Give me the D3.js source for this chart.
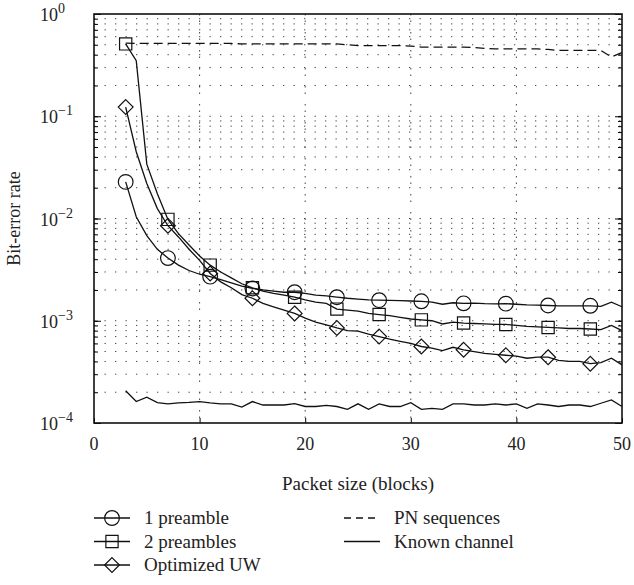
<!DOCTYPE html>
<html>
<head>
<meta charset="utf-8" />
<title>Bit-error rate vs packet size</title>
<script src="https://cdn.jsdelivr.net/npm/d3@7"></script>
<style>
  body { margin: 0; background: #fff; }
  svg text { font-family: "Liberation Serif", "DejaVu Serif", serif; fill: #222; }
</style>
</head>
<body>
<script>
// packet sizes (blocks), one point per block from 3 to 50
var packetSize = d3.range(3, 51);
// marker positions
var markerSize = [3, 7, 11, 15, 19, 23, 27, 31, 35, 39, 43, 47];

var onePreamble = [0.0228, 0.0104, 0.0068, 0.0050, 0.0041, 0.0035, 0.0031, 0.00285, 0.0027, 0.00252,
  0.00235, 0.00218, 0.00207, 0.0020, 0.00195, 0.0019, 0.0019, 0.00185, 0.00178, 0.00175,
  0.0017, 0.00166, 0.00163, 0.0016, 0.00159, 0.00158, 0.00157, 0.00156, 0.00155, 0.00152,
  0.00145, 0.0015, 0.00148, 0.00149, 0.00147, 0.00146, 0.00147, 0.00145, 0.00143, 0.00142,
  0.00141, 0.0014, 0.0014, 0.0014, 0.0014, 0.00138, 0.00152, 0.00137];

var twoPreambles = [0.51, 0.35, 0.034, 0.0175, 0.0098, 0.0071, 0.0055, 0.0043, 0.0035, 0.0030,
  0.00263, 0.0023, 0.0021, 0.00195, 0.00185, 0.00178, 0.0017, 0.0016, 0.00152, 0.00148,
  0.0013, 0.00127, 0.00124, 0.00118, 0.00115, 0.00112, 0.00108, 0.00104, 0.00102, 0.0010,
  0.00093, 0.00097, 0.00095, 0.00094, 0.00093, 0.00092, 0.00092, 0.0009, 0.00088, 0.00087,
  0.00086, 0.00085, 0.00084, 0.00084, 0.00083, 0.00082, 0.0009, 0.0008];

var optimizedUW = [0.123, 0.045, 0.022, 0.0125, 0.0085, 0.0066, 0.005, 0.0039, 0.0029, 0.0024,
  0.0021, 0.0018, 0.00166, 0.00148, 0.00137, 0.00127, 0.00118, 0.00106, 0.00097, 0.00091,
  0.00085, 0.0008, 0.00079, 0.00074, 0.0007, 0.00066, 0.00063, 0.0006, 0.00056, 0.00054,
  0.00051, 0.00055, 0.00052, 0.0005, 0.00048, 0.00047, 0.00046, 0.00045, 0.00043, 0.00044,
  0.00044, 0.00041, 0.0004, 0.0004, 0.00038, 0.00039, 0.00043, 0.00037];

var pnSequences = [0.52, 0.515, 0.515, 0.515, 0.515, 0.515, 0.515, 0.515, 0.515, 0.515,
  0.515, 0.51, 0.51, 0.51, 0.51, 0.51, 0.51, 0.51, 0.51, 0.51,
  0.51, 0.50, 0.49, 0.49, 0.49, 0.49, 0.49, 0.485, 0.475, 0.475,
  0.475, 0.475, 0.475, 0.47, 0.46, 0.455, 0.455, 0.455, 0.455, 0.455,
  0.45, 0.44, 0.44, 0.44, 0.44, 0.44, 0.38, 0.42];

var knownChannel = [0.000207, 0.000162, 0.000179, 0.000158, 0.000154, 0.000157, 0.000159, 0.000162, 0.000157, 0.000154,
  0.000154, 0.000143, 0.000162, 0.00015, 0.00015, 0.00015, 0.000155, 0.000145, 0.000145, 0.000149,
  0.000145, 0.000136, 0.000154, 0.000136, 0.000154, 0.000145, 0.000145, 0.000158, 0.000136, 0.000139,
  0.000136, 0.000154, 0.000154, 0.00015, 0.00015, 0.000154, 0.00015, 0.000154, 0.000139, 0.000154,
  0.00015, 0.000145, 0.00015, 0.00015, 0.000145, 0.000156, 0.000168, 0.000145];

var xTicks = [0, 10, 20, 30, 40, 50];
var yTicks = [1, 1e-1, 1e-2, 1e-3, 1e-4];
var yTickExp = ["0", "\u22121", "\u22122", "\u22123", "\u22124"];

// set the dimensions of the graph
var W = 634, H = 585;
var margin = {top: 14, right: 12, bottom: 162, left: 94},
    width = W - margin.left - margin.right,
    height = H - margin.top - margin.bottom;

var svg = d3.select("body").append("svg")
    .attr("width", W)
    .attr("height", H);
var g = svg.append("g")
    .attr("transform", "translate(" + margin.left + "," + margin.top + ")");

var x = d3.scaleLinear().domain([0, 50]).range([0, width]);
var y = d3.scaleLog().domain([1e-4, 1]).range([height, 0]);

// minor values for grid (2..9 of each decade, plus decades)
var yMinor = [];
for (var e = -4; e < 0; e++) {
  for (var m = 1; m < 10; m++) yMinor.push(m * Math.pow(10, e));
}

// horizontal dotted grid
g.append("g")
  .selectAll("line")
  .data(yMinor.filter(function(v) { return v > 1e-4; }))
  .enter().append("line")
    .attr("x1", 0).attr("x2", width)
    .attr("y1", function(d) { return y(d); })
    .attr("y2", function(d) { return y(d); })
    .attr("stroke", "#444")
    .attr("stroke-width", 1)
    .attr("stroke-dasharray", "1.3,9.2");

// vertical grid
g.append("g")
  .selectAll("line")
  .data(xTicks.slice(1, -1))
  .enter().append("line")
    .attr("x1", function(d) { return x(d); })
    .attr("x2", function(d) { return x(d); })
    .attr("y1", 0).attr("y2", height)
    .attr("stroke", "#444")
    .attr("stroke-width", 1)
    .attr("stroke-dasharray", "1.5,5,1.5,10");

// inner ticks on both sides
g.append("g")
  .call(d3.axisLeft(y).tickValues(yMinor).tickSize(-4).tickFormat(""))
  .call(function(s) { s.select(".domain").remove(); });
g.append("g")
  .call(d3.axisLeft(y).tickValues(yTicks).tickSize(-7).tickFormat(""))
  .call(function(s) { s.select(".domain").remove(); });
g.append("g")
  .attr("transform", "translate(" + width + ",0)")
  .call(d3.axisRight(y).tickValues(yMinor).tickSize(-4).tickFormat(""))
  .call(function(s) { s.select(".domain").remove(); });
g.append("g")
  .attr("transform", "translate(" + width + ",0)")
  .call(d3.axisRight(y).tickValues(yTicks).tickSize(-7).tickFormat(""))
  .call(function(s) { s.select(".domain").remove(); });
g.append("g")
  .attr("transform", "translate(0," + height + ")")
  .call(d3.axisBottom(x).tickValues(xTicks).tickSize(-5).tickFormat(""))
  .call(function(s) { s.select(".domain").remove(); });

// frame
g.append("rect")
  .attr("width", width).attr("height", height)
  .attr("fill", "none").attr("stroke", "#111").attr("stroke-width", 1.6);

// x tick labels
g.append("g").selectAll("text")
  .data(xTicks)
  .enter().append("text")
    .attr("x", function(d) { return x(d); })
    .attr("y", height + 27)
    .attr("text-anchor", "middle")
    .style("font-size", "18px")
    .text(function(d) { return d; });

// y tick labels 10^n
var yl = g.append("g").selectAll("text")
  .data(yTicks)
  .enter().append("text")
    .attr("x", -54)
    .attr("y", function(d) { return y(d) + 7; })
    .style("font-size", "18px");
yl.append("tspan").text("10");
yl.append("tspan")
  .attr("dy", -8)
  .style("font-size", "14px")
  .text(function(d, i) { return yTickExp[i]; });

// axis titles
svg.append("text")
  .attr("x", margin.left + width / 2)
  .attr("y", 490)
  .attr("text-anchor", "middle")
  .style("font-size", "19px")
  .text("Packet size (blocks)");
svg.append("text")
  .attr("transform", "translate(20," + (margin.top + height / 2) + ")rotate(-90)")
  .attr("text-anchor", "middle")
  .style("font-size", "18px")
  .text("Bit-error rate");

// series
function toPoints(vals) {
  return packetSize.map(function(s, i) { return {s: s, v: vals[i]}; });
}
var line = d3.line()
  .x(function(d) { return x(d.s); })
  .y(function(d) { return y(d.v); });

var series = [
  {name: "1 preamble", vals: onePreamble, marker: "circle", dash: null},
  {name: "2 preambles", vals: twoPreambles, marker: "square", dash: null},
  {name: "Optimized UW", vals: optimizedUW, marker: "diamond", dash: null},
  {name: "PN sequences", vals: pnSequences, marker: null, dash: "9,5"},
  {name: "Known channel", vals: knownChannel, marker: null, dash: null}
];

var symbols = {
  circle: d3.symbol().type(d3.symbolCircle).size(170),
  square: d3.symbol().type(d3.symbolSquare).size(150),
  diamond: d3.symbol().type(d3.symbolDiamond2).size(140)
};

series.forEach(function(sr) {
  var pts = toPoints(sr.vals);
  g.append("path")
    .datum(pts)
    .attr("d", line)
    .attr("fill", "none")
    .attr("stroke", "#111")
    .attr("stroke-width", 1.3)
    .attr("stroke-dasharray", sr.dash);
  if (sr.marker) {
    g.selectAll(null)
      .data(pts.filter(function(p) { return markerSize.indexOf(p.s) >= 0; }))
      .enter().append("path")
        .attr("d", symbols[sr.marker])
        .attr("transform", function(d) { return "translate(" + x(d.s) + "," + y(d.v) + ")"; })
        .attr("fill", "none")
        .attr("stroke", "#111")
        .attr("stroke-width", 1.2);
  }
});

// legend
var legendPos = [
  {col: 0, row: 0}, {col: 0, row: 1}, {col: 0, row: 2},
  {col: 1, row: 0}, {col: 1, row: 1}
];
var lg = svg.append("g").selectAll("g")
  .data(series)
  .enter().append("g")
    .attr("transform", function(d, i) {
      var p = legendPos[i];
      return "translate(" + (94 + p.col * 250) + "," + (518 + p.row * 23.5) + ")";
    });
lg.append("line")
  .attr("x1", 0).attr("x2", 36)
  .attr("stroke", "#111").attr("stroke-width", 1.3)
  .attr("stroke-dasharray", function(d) { return d.dash ? "7,5" : null; });
lg.filter(function(d) { return d.marker; })
  .append("path")
    .attr("d", function(d) { return symbols[d.marker](); })
    .attr("transform", "translate(18,0)")
    .attr("fill", "none").attr("stroke", "#111").attr("stroke-width", 1.2);
lg.append("text")
  .attr("x", 50)
  .attr("y", 6)
  .style("font-size", "19px")
  .text(function(d) { return d.name; });
</script>
</body>
</html>
